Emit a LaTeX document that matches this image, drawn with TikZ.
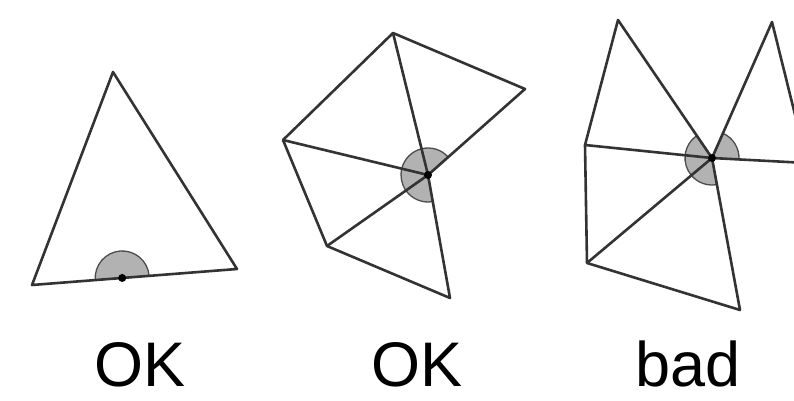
\documentclass[tikz,border=0pt]{standalone}
\usepackage{fontspec}
\setmainfont{Liberation Sans}
\usetikzlibrary{calc}
\begin{document}
\begin{tikzpicture}[x=1pt,y=1pt,
  mesh/.style={line width=2.6pt,draw=black!80,line join=round},
  wedge/.style={fill=black!30,draw=black!70,line width=1.3pt},
  vdot/.style={circle,fill=black,inner sep=0pt,minimum size=8pt},
  verdict/.style={font=\fontsize{63}{68}\selectfont,anchor=base,inner sep=0pt}]
  \useasboundingbox (0,0) rectangle (794,400);
  % single triangle, vertex on its boundary
  \coordinate (l1) at (32,115); \coordinate (t1) at (113,328); \coordinate (r1) at (237,131);
  \coordinate (p1) at ($(l1)!0.44!(r1)$);
  \draw[wedge] (p1) -- ++(4.5:27pt) arc[start angle=4.5,end angle=184.5,radius=27pt] -- cycle;
  \draw[mesh] (l1) -- (t1) -- (r1) -- cycle;
  \node[vdot] (v1) at (p1) {};
  % fan of four triangles, open on one side
  \coordinate (a2) at (393,367); \coordinate (b2) at (525,311); \coordinate (c2) at (283,260);
  \coordinate (d2) at (327,154); \coordinate (e2) at (450,102); \coordinate (p2) at (428,225);
  \foreach \s/\e in {41.6/103.8,103.8/166.4,166.4/215.1,215.1/280.1}
    \draw[wedge] (p2) -- ++(\s:27pt) arc[start angle=\s,end angle=\e,radius=27pt] -- cycle;
  \draw[mesh] (p2) -- (b2) -- (a2) -- (c2) -- (d2) -- (e2) -- cycle;
  \draw[mesh] (a2) -- (p2) (c2) -- (p2) (d2) -- (p2);
  \node[vdot] (v2) at (p2) {};
  % fan plus a triangle touching only at the vertex
  \begin{scope}
    \clip (0,0) rectangle (794,400);
    \coordinate (a3) at (618,380); \coordinate (b3) at (772,378); \coordinate (c3) at (585,255);
    \coordinate (d3) at (587,137); \coordinate (e3) at (740,90); \coordinate (f3) at (807,237);
    \coordinate (p3) at (712,242);
    \foreach \s/\e in {124.3/174.2,174.2/220,220/280.4,-3/66.2}
      \draw[wedge] (p3) -- ++(\s:27pt) arc[start angle=\s,end angle=\e,radius=27pt] -- cycle;
    \draw[mesh] (p3) -- (a3) -- (c3) -- (d3) -- (e3) -- cycle;
    \draw[mesh] (c3) -- (p3) -- (d3);
    \draw[mesh] (p3) -- (b3) -- (f3) -- cycle;
    \node[vdot] (v3) at (p3) {};
  \end{scope}
  % verdicts
  \node[verdict] (ok1) at (140,14) {OK};
  \node[verdict] (ok2) at (417,14) {OK};
  \node[verdict] (bad) at (688,14) {bad};
\end{tikzpicture}
\end{document}
